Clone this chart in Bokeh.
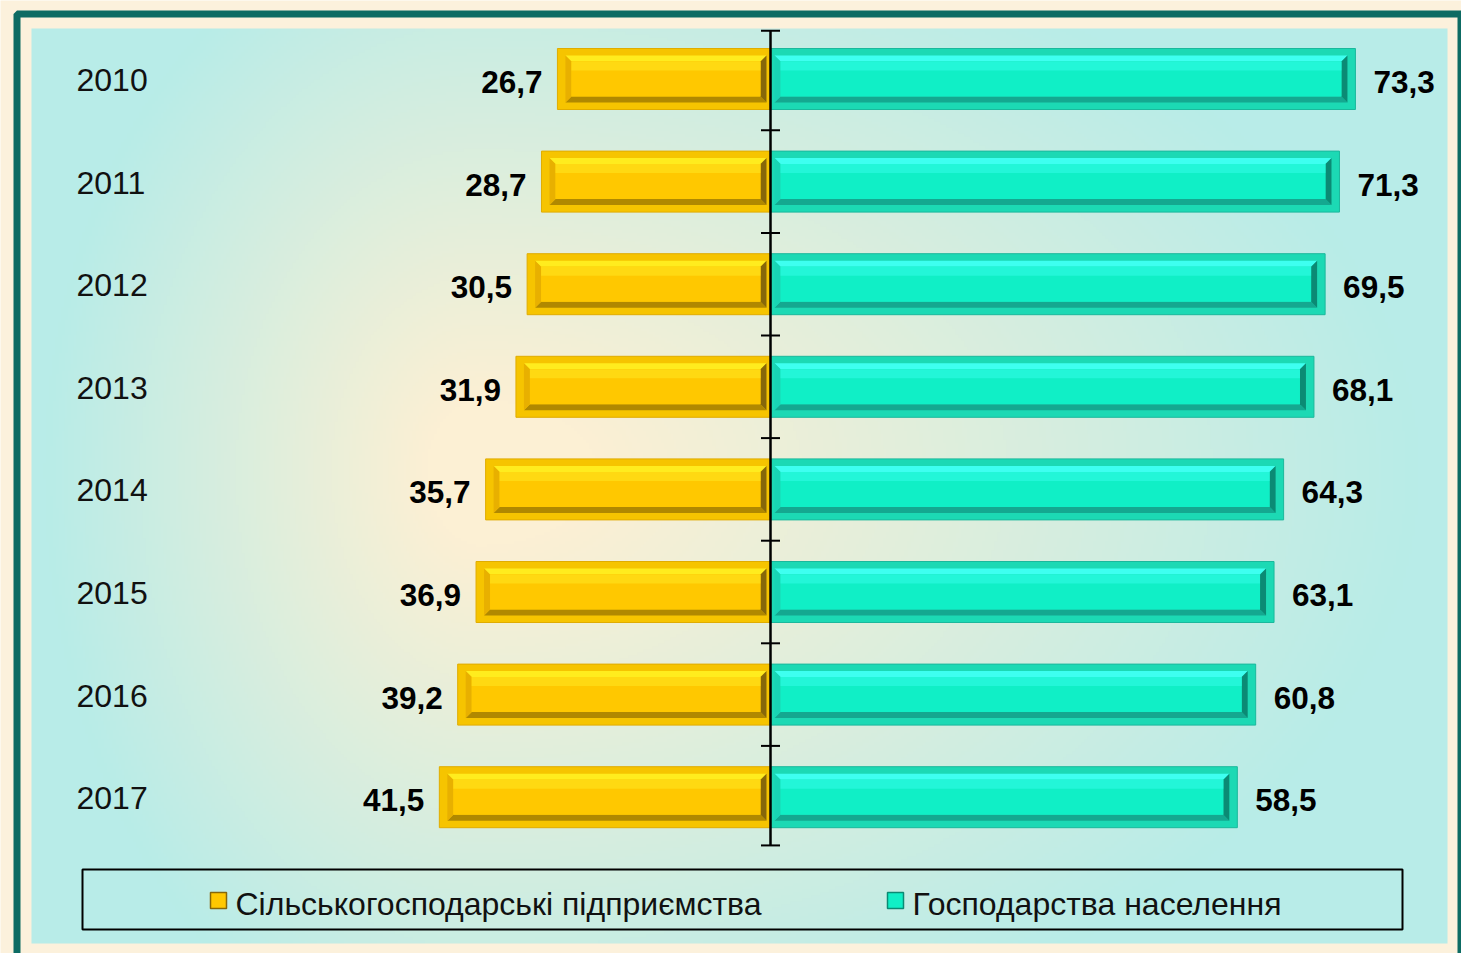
import numpy as np
from bokeh.plotting import figure
from bokeh.models import Range1d
from bokeh.core.properties import value
from bokeh.embed import file_html
from bokeh.resources import INLINE

# ---------------- data ----------------
years = ["2010", "2011", "2012", "2013", "2014", "2015", "2016", "2017"]
agri_share = [26.7, 28.7, 30.5, 31.9, 35.7, 36.9, 39.2, 41.5]
household_share = [73.3, 71.3, 69.5, 68.1, 64.3, 63.1, 60.8, 58.5]
series_names = ["Сільськогосподарські підприємства", "Господарства населення"]

# ---------------- layout constants ----------------
W, H = 1461, 953
OFF = 0        # page offset of the canvas
SX = 7.98      # px per percent
SY = 102.6     # px per row
AX_PX = 770.0  # page x of the zero axis
ROW0_PX = 78.5 # page y of first row centre
FONT = "Liberation Sans"


def dx(px):
    return px / SX


def dy(px):
    return px / SY


def xp(page_x):
    return (page_x - AX_PX) / SX


def yp(page_y):
    return -(page_y - ROW0_PX) / SY


p = figure(width=W, height=H,
           x_range=Range1d(xp(OFF), xp(OFF + W)),
           y_range=Range1d(yp(OFF + H), yp(OFF)),
           output_backend="svg", toolbar_location=None,
           x_axis_location=None, y_axis_location=None,
           min_border=0, outline_line_color=None,
           background_fill_color="#FCF1DC", border_fill_color="#FCF1DC")
p.grid.visible = False

# ---------------- gradient background of the inner panel ----------------
IL, IR, IT, IB = 31, 1447, 28, 943
step = 3
nw = int((IR - IL) / step)
nh = int((IB - IT) / step)
xs = IL + (np.arange(nw) + 0.5) * (IR - IL) / nw
ys = IB - (np.arange(nh) + 0.5) * (IB - IT) / nh  # row 0 at bottom
X, Y = np.meshgrid(xs, ys)
cx, cy = 480.0, 470.0
dxn = np.where(X < cx, (cx - X) / (cx - IL), (X - cx) / (IR - cx))
dyn = np.where(Y < cy, (cy - Y) / (cy - IT), (Y - cy) / (IB - cy))
r = np.sqrt(dxn ** 2 + (0.75 * dyn) ** 2)
t = np.clip((r - 0.12) / 0.85, 0, 1)
cream = np.array([252, 240, 212], dtype=float)
cyan = np.array([184, 236, 232], dtype=float)
img = np.empty((nh, nw), dtype=np.uint32)
view = img.view(dtype=np.uint8).reshape((nh, nw, 4))
for k in range(3):
    view[:, :, k] = (cream[k] * (1 - t) + cyan[k] * t).astype(np.uint8)
view[:, :, 3] = 255
p.image_rgba(image=[img], x=xp(IL), y=yp(IB), dw=dx(IR - IL), dh=dy(IB - IT))

# teal frame
p.quad(left=xp(16.5), right=xp(1460.5), top=yp(13.5), bottom=yp(990),
       fill_alpha=0, line_color="#0D6B63", line_width=7)

# ---------------- bevelled bars ----------------
HALF = dy(30.5)


def bevel_bar(x0, x1, c, insL, insR, store):
    store["outer"][0].append(x0); store["outer"][1].append(x1)
    store["outer"][2].append(c + HALF); store["outer"][3].append(c - HALF)
    pl, pr = x0 + dx(insL), x1 - dx(insR)
    pt, pb = c + HALF - dy(7), c - HALF + dy(7)
    b = 6
    fl, fr = pl + dx(b), pr - dx(b)
    ft, fb = pt - dy(b), pb + dy(b)
    store["top"].append(([pl, pr, fr, fl], [pt, pt, ft, ft]))
    store["bottom"].append(([pl, pr, fr, fl], [pb, pb, fb, fb]))
    store["left"].append(([pl, fl, fl, pl], [pt, ft, fb, pb]))
    store["right"].append(([pr, fr, fr, pr], [pt, ft, fb, pb]))
    store["face"].append((fl, fr, ft, fb))


def new_store():
    return {"outer": ([], [], [], []), "top": [], "bottom": [], "left": [],
            "right": [], "face": []}


def draw_store(store, pal):
    o = store["outer"]
    p.quad(left=o[0], right=o[1], top=o[2], bottom=o[3],
           fill_color=pal["outer"], line_color=pal["edge"], line_width=1)
    for part in ("top", "bottom", "left", "right"):
        p.patches(xs=[s[0] for s in store[part]], ys=[s[1] for s in store[part]],
                  fill_color=pal[part], line_color=None)
    f = store["face"]
    p.quad(left=[q[0] for q in f], right=[q[1] for q in f],
           top=[q[2] for q in f], bottom=[q[3] for q in f],
           fill_color=pal["face"], line_color=None)
    p.quad(left=[q[0] for q in f], right=[q[1] for q in f],
           top=[q[2] for q in f], bottom=[q[2] - dy(9) for q in f],
           fill_color=pal["hi"], line_color=None, fill_alpha=0.7)


yellow = {"outer": "#F6C400", "edge": "#E0AC00", "top": "#FFEC1E", "bottom": "#B08800",
          "left": "#E8B000", "right": "#86670A", "face": "#FFC800", "hi": "#FFE01A"}
teal = {"outer": "#1CD9B4", "edge": "#1BB89C", "top": "#3EFFF0", "bottom": "#14A890",
        "left": "#18D4B4", "right": "#0B8A74", "face": "#10EFC6", "hi": "#2CFAE0"}

ys_store = new_store()
ts_store = new_store()
for i, (a, h) in enumerate(zip(agri_share, household_share)):
    c = -i
    bevel_bar(-a, 0, c, 8, 4, ys_store)
    bevel_bar(0, h, c, 4, 8, ts_store)
draw_store(ys_store, yellow)
draw_store(ts_store, teal)

# ---------------- axis with ticks ----------------
n = len(years)
p.segment(x0=[0], x1=[0], y0=[0.47], y1=[-(n - 1) - 0.47], line_color="black", line_width=2.5)
tick_y = [0.47] + [-(k + 0.5) for k in range(n - 1)] + [-(n - 1) - 0.47]
p.segment(x0=[-dx(9.5)] * len(tick_y), x1=[dx(9.5)] * len(tick_y), y0=tick_y, y1=tick_y,
          line_color="black", line_width=2)

# ---------------- labels ----------------
row_y = [-i for i in range(n)]
p.text(x=[xp(76)] * n, y=[r_ - dy(1) for r_ in row_y], text=years,
       text_font=value(FONT), text_font_size="32px", text_color="#111111",
       text_align="left", text_baseline="middle")
p.text(x=[-a - dx(15) for a in agri_share], y=[r_ - dy(3) for r_ in row_y],
       text=[f"{a:.1f}".replace(".", ",") for a in agri_share],
       text_font=value(FONT), text_font_size="31.5px", text_font_style="bold",
       text_color="black", text_align="right", text_baseline="middle")
p.text(x=[h + dx(18) for h in household_share], y=[r_ - dy(3) for r_ in row_y],
       text=[f"{h:.1f}".replace(".", ",") for h in household_share],
       text_font=value(FONT), text_font_size="31.5px", text_font_style="bold",
       text_color="black", text_align="left", text_baseline="middle")

# ---------------- legend ----------------
p.quad(left=xp(82), right=xp(1402), top=yp(869), bottom=yp(929),
       fill_alpha=0, line_color="black", line_width=2)
leg_x = [218, 895]
leg_cols = [yellow, teal]
for lx, pal, name in zip(leg_x, leg_cols, series_names):
    p.quad(left=xp(lx - 8), right=xp(lx + 8), top=yp(892), bottom=yp(908),
           fill_color=pal["face"], line_color=pal["right"], line_width=1.5)
    p.text(x=[xp(lx + 17)], y=[yp(903)], text=[name],
           text_font=value(FONT), text_font_size="32px", text_color="#111111",
           text_align="left", text_baseline="middle")

open("out.html", "w").write(file_html(p, INLINE))
